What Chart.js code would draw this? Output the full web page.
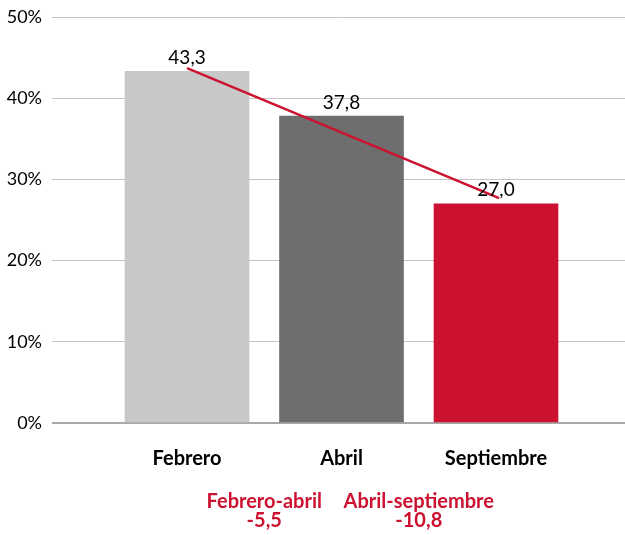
<!DOCTYPE html>
<html>
<head>
<meta charset="utf-8">
<script src="https://cdn.jsdelivr.net/npm/chart.js@4"></script>
<style>
  html, body { margin: 0; padding: 0; background: #fff; }
  #wrap { width: 625px; height: 535px; }
</style>
</head>
<body>
<div id="wrap"><canvas id="chart" width="625" height="535"></canvas></div>
<script>
// data
const months      = ['Febrero', 'Abril', 'Septiembre'];
const values      = [43.3, 37.8, 27.0];
const barColors   = ['#c8c8c8', '#6e6e6e', '#cc1230'];
const trendX      = [1, 3.02];
const trendY      = [43.7, 27.7];
const changeAt    = [1.5, 2.5];
const changeNames = ['Febrero-abril', 'Abril-septiembre'];
const changeVals  = ['-5,5', '-10,8'];
const yTicks      = [0, 10, 20, 30, 40, 50];

const RED  = '#cc1230';
const FONT = 'Lato, "Open Sans", sans-serif';
const fmt  = v => v.toFixed(1).replace('.', ',');

// value labels above each bar
const barLabels = {
  id: 'barLabels',
  afterDatasetsDraw(chart) {
    const { ctx } = chart;
    const meta = chart.getDatasetMeta(0);
    ctx.save();
    ctx.font = `19px ${FONT}`;
    ctx.fillStyle = '#000';
    ctx.textAlign = 'center';
    ctx.textBaseline = 'bottom';
    meta.data.forEach((bar, i) => ctx.fillText(fmt(values[i]), bar.x, bar.y - 4));
    ctx.restore();
  }
};

// red change notes under the axis
const changeNotes = {
  id: 'changeNotes',
  afterDraw(chart) {
    const { ctx, scales: { x } } = chart;
    ctx.save();
    ctx.font = `bold 20px ${FONT}`;
    ctx.fillStyle = RED;
    ctx.textAlign = 'center';
    ctx.textBaseline = 'middle';
    changeAt.forEach((v, i) => {
      const px = x.getPixelForValue(v);
      ctx.fillText(changeNames[i], px, 502);
      ctx.fillText(changeVals[i], px, 521);
    });
    ctx.restore();
  }
};

new Chart(document.getElementById('chart'), {
  data: {
    datasets: [
      {
        type: 'bar',
        data: values.map((y, i) => ({ x: i + 1, y })),
        backgroundColor: barColors,
        borderWidth: 0,
        barThickness: 124,
        order: 2,
      },
      {
        type: 'line',
        data: trendX.map((x, i) => ({ x, y: trendY[i] })),
        borderColor: RED,
        borderWidth: 2.5,
        pointRadius: 0,
        fill: false,
        order: 1,
      },
    ],
  },
  options: {
    responsive: false,
    animation: false,
    layout: { padding: { top: 17, right: 0, left: 0, bottom: 0 } },
    plugins: { legend: { display: false }, tooltip: { enabled: false } },
    scales: {
      x: {
        type: 'linear',
        offset: false,
        min: 0.126,
        max: 3.835,
        afterBuildTicks: s => { s.ticks = months.map((_, i) => ({ value: i + 1 })); },
        afterFit: s => { s.height = 112; },
        grid: { display: false, drawTicks: false },
        border: { display: false },
        ticks: {
          padding: 24,
          color: '#000',
          font: { family: FONT, size: 20, weight: 'bold' },
          callback: v => months[v - 1],
        },
      },
      y: {
        min: 0,
        max: 50,
        afterBuildTicks: s => { s.ticks = yTicks.map(value => ({ value })); },
        afterFit: s => { s.width = 52; s.paddingTop = 0; s.paddingBottom = 0; },
        grid: {
          drawTicks: false,
          color: c => c.tick.value === 0 ? '#a8a8a8' : '#c4c4c4',
          lineWidth: c => c.tick.value === 0 ? 2 : 1,
        },
        border: { display: false },
        ticks: {
          padding: 10,
          color: '#000',
          font: { family: FONT, size: 18, lineHeight: 1 },
          callback: v => v + '%',
        },
      },
    },
  },
  plugins: [barLabels, changeNotes],
});
</script>
</body>
</html>
